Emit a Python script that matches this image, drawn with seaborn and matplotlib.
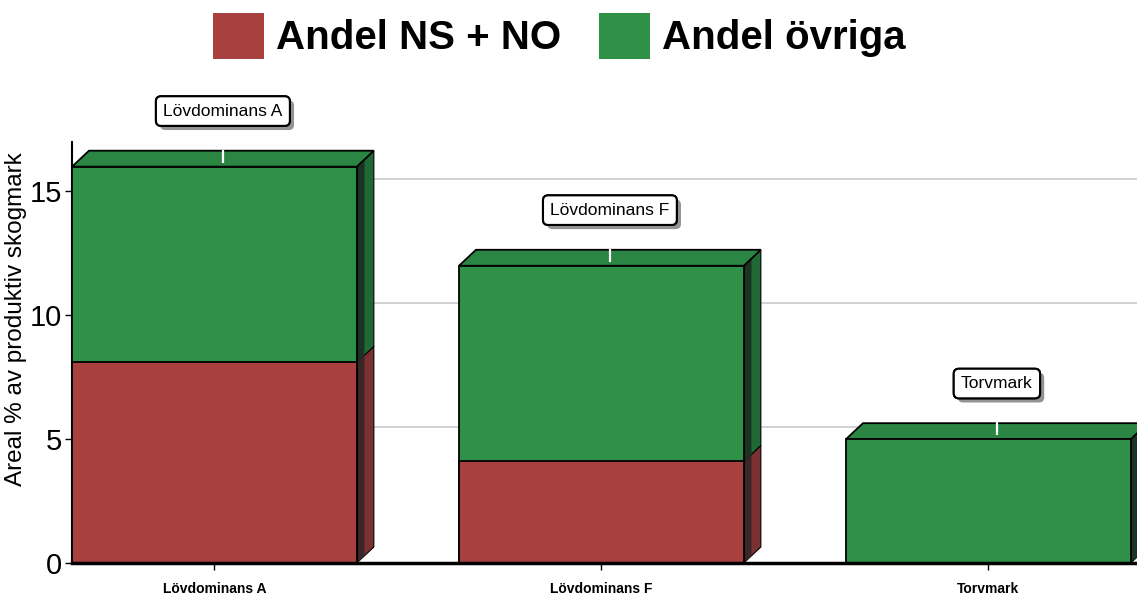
import numpy as np
import pandas as pd
import matplotlib.pyplot as plt
import matplotlib.patheffects as pe
import seaborn as sns
from matplotlib.patches import Polygon, Patch

# ------------------------------------------------------------
# Data
# ------------------------------------------------------------
categories = ["Lövdominans A", "Lövdominans F", "Torvmark"]
andel_ns_no = [8.1, 4.1, 0.0]
andel_ovriga = [7.9, 7.9, 5.0]
y_ticks = [0, 5, 10, 15]
legend_labels = ["Andel NS + NO", "Andel övriga"]

# colours and the fake 3-D look
RED = "#a8403f"
GREEN = "#2f9048"
RED_SIDE = "#7b3131"
GREEN_SIDE = "#1f6a34"
RED_DARK = "#3a2626"
GREEN_DARK = "#1b3323"
GREEN_TOP = "#2b8643"
DX, DY = 0.044, 0.645      # depth of the boxes in data units
BAR_W = 0.736

df = pd.DataFrame({"kategori": categories, "ns_no": andel_ns_no, "ovriga": andel_ovriga})
df["total"] = df["ns_no"] + df["ovriga"]

sns.set_theme(style="white")
plt.rcParams["font.family"] = ["Liberation Sans", "DejaVu Sans"]
plt.rcParams.update({"text.color": "black", "axes.labelcolor": "black",
                     "xtick.color": "black", "ytick.color": "black"})

fig = plt.figure(figsize=(11.37, 5.99), dpi=100)
ax = fig.add_axes([0.0633, 0.0601, 0.9367, 0.703])

# front faces: total in green, NS+NO in red on top of it
sns.barplot(data=df, x="kategori", y="total", color=GREEN, saturation=1, width=BAR_W,
            errorbar=None, edgecolor="black", linewidth=1.3, zorder=3, ax=ax)
sns.barplot(data=df, x="kategori", y="ns_no", color=RED, saturation=1, width=BAR_W,
            errorbar=None, edgecolor="black", linewidth=1.3, zorder=3, ax=ax)
green_bars = list(ax.patches[:3])
red_bars = list(ax.patches[3:6])


def side_face(x1, y0, y1, face, dark):
    ax.add_patch(Polygon([(x1, y0), (x1 + DX, y0 + DY), (x1 + DX, y1 + DY), (x1, y1)],
                         closed=True, fc=face, ec="black", lw=0.8, zorder=2.5))
    f = 0.45
    ax.add_patch(Polygon([(x1, y0), (x1 + DX * f, y0 + DY * f),
                          (x1 + DX * f, y1 + DY * f), (x1, y1)],
                         closed=True, fc=dark, ec="none", zorder=2.6))


for cat, g, r in zip(categories, green_bars, red_bars):
    x0 = g.get_x()
    x1 = x0 + g.get_width()
    top = g.get_height()
    ns = r.get_height()
    xc = x0 + g.get_width() / 2

    # top face
    ax.add_patch(Polygon([(x0, top), (x0 + DX, top + DY), (x1 + DX, top + DY), (x1, top)],
                         closed=True, fc=GREEN_TOP, ec="black", lw=1.3, zorder=2.7))
    # right side faces
    if ns > 0:
        side_face(x1, 0, ns, RED_SIDE, RED_DARK)
    side_face(x1, ns, top, GREEN_SIDE, GREEN_DARK)

    # small white marker on the top face
    ax.plot([xc + DX / 2] * 2, [top + DY * 0.25, top + DY * 1.05],
            color="white", lw=1.6, zorder=4, solid_capstyle="butt")

    # label box with shadow
    t = ax.text(xc + DX / 2, top + DY + 1.6, cat, ha="center", va="center",
                fontsize=12.5, zorder=5, clip_on=False,
                bbox=dict(boxstyle="round,pad=0.42,rounding_size=0.3",
                          fc="white", ec="black", lw=1.5))
    t.get_bbox_patch().set_path_effects([
        pe.withSimplePatchShadow(offset=(3, -3), shadow_rgbFace="#666666", alpha=0.7),
        pe.Normal()])

# gridlines on the back wall
for v in y_ticks[1:]:
    ax.axhline(v + 0.5, color="#cfcfcf", lw=1.3, zorder=1)

ax.set_xlim(-0.368, 2.384)
ax.set_ylim(0, 17)
ax.set_yticks(y_ticks)
ax.set_xlabel("")
ax.set_ylabel("Areal % av produktiv skogmark", fontsize=17.5)
ax.yaxis.set_label_coords(-0.042, 0.58)

ax.tick_params(axis="y", left=True, direction="out", length=5, width=1,
               labelsize=21, pad=2)
ax.tick_params(axis="x", bottom=True, direction="out", length=5, width=1,
               labelsize=10, pad=9)
for lab in ax.get_xticklabels():
    lab.set_fontweight("bold")

for s in ["top", "right"]:
    ax.spines[s].set_visible(False)
ax.spines["left"].set_color("black")
ax.spines["left"].set_linewidth(1.5)
ax.spines["bottom"].set_color("black")
ax.spines["bottom"].set_linewidth(2.5)
ax.spines["bottom"].set_zorder(4)

handles = [Patch(fc=RED, ec="none"), Patch(fc=GREEN, ec="none")]
fig.legend(handles, legend_labels, loc="center", bbox_to_anchor=(0.492, 0.94), ncol=2,
           frameon=False, prop={"weight": "bold", "size": 29}, handlelength=1.25,
           handleheight=1.4, handletextpad=0.3, columnspacing=0.95)

fig.savefig("out.png", dpi=100)
